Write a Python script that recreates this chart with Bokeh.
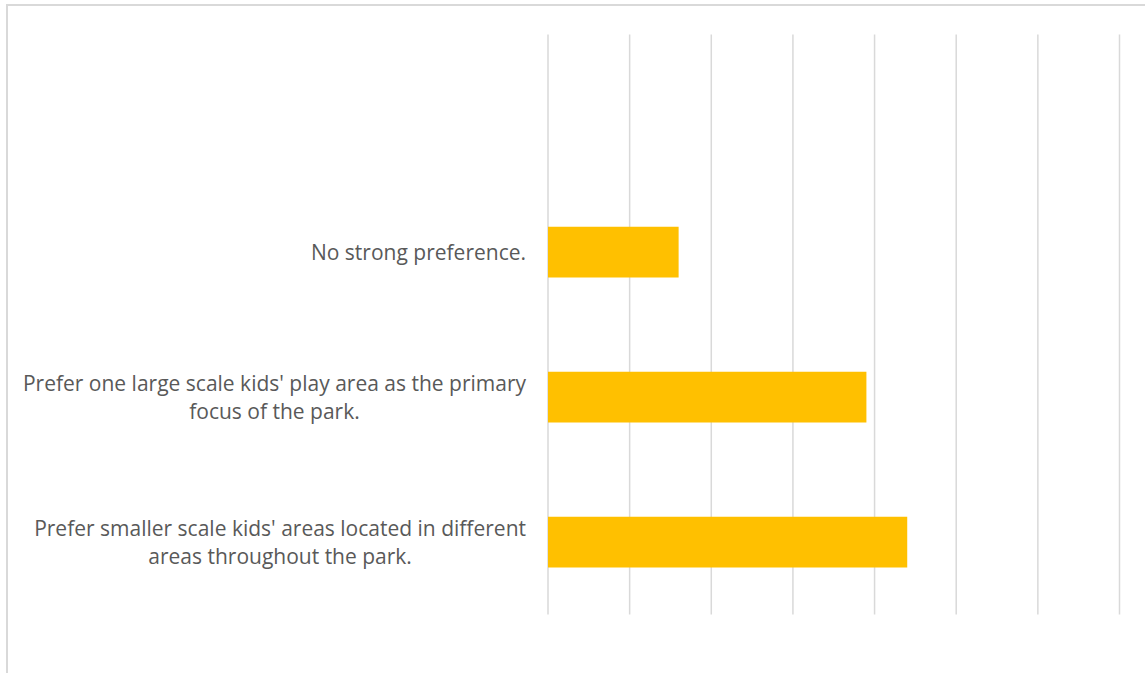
from bokeh.plotting import figure
from bokeh.models import Label, Range1d
from bokeh.embed import file_html
from bokeh.resources import INLINE

# Data (bottom to top, as in the reference)
categories = [
    "Prefer smaller scale kids' areas located in different\nareas throughout the park.",
    "Prefer one large scale kids' play area as the primary\nfocus of the park.",
    "No strong preference.",
]
values = [44, 39, 16]  # percent of responses
x_ticks = [0, 10, 20, 30, 40, 50, 60, 70]

positions = list(range(1, len(categories) + 1))

# layout (pixels): canvas size, where value 0 sits, pixels per unit
W, H = 1139, 669
ORIGIN_X = 539.5          # px from canvas left to value 0
PX_PER_X = 571.5 / (x_ticks[-1] - x_ticks[0])
ROW_PX = 145.0            # px per category slot
FIRST_ROW_Y = 535.5       # px from canvas top to first category centre

x_start = x_ticks[0] - ORIGIN_X / PX_PER_X
x_end = x_start + W / PX_PER_X
y_end = positions[0] + FIRST_ROW_Y / ROW_PX
y_start = y_end - H / ROW_PX

p = figure(
    width=W, height=H,
    x_range=Range1d(x_start, x_end),
    y_range=Range1d(y_start, y_end),
    output_backend="svg", toolbar_location=None,
    min_border=0,
)
p.styles = {
    "margin-left": "6px", "margin-top": "4px",
    "border-top": "2px solid #d9d9d9", "border-left": "2px solid #d9d9d9",
}
p.outline_line_color = None
p.background_fill_color = "white"
p.border_fill_color = "white"
p.axis.visible = False
p.grid.visible = False

# vertical gridlines
p.segment(x0=x_ticks, x1=x_ticks, y0=[0.5] * len(x_ticks),
          y1=[len(categories) + 1.5] * len(x_ticks),
          line_color="#d9d9d9", line_width=1.5)

p.hbar(y=positions, right=values, left=0, height=0.35, color="#FFC000", line_color=None)

for pos, cat in zip(positions, categories):
    p.add_layout(Label(
        x=0, y=pos, text=cat, x_offset=-22,
        anchor="center_right", text_align="center", text_baseline="middle",
        text_font="Open Sans", text_font_size="21px", text_color="#595959",
        text_line_height=1.0,
    ))

open("out.html", "w").write(file_html(p, INLINE))
